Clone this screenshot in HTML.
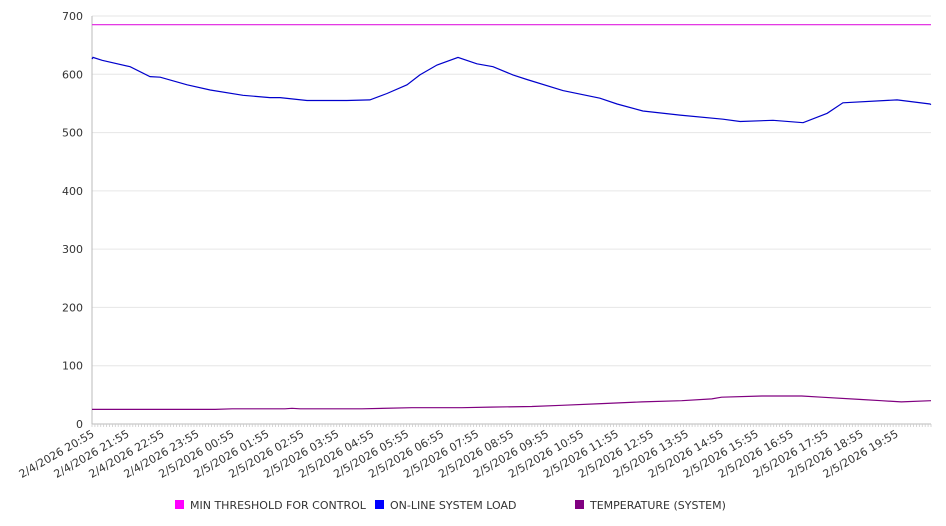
<!DOCTYPE html>
<html><head><meta charset="utf-8"><style>
html,body{margin:0;padding:0;background:#fff;}
svg{display:block;font-family:"DejaVu Sans","Liberation Sans",sans-serif;}
</style></head><body>
<svg id="chart" width="946" height="526" viewBox="0 0 946 526"></svg>
<script>
const xTickLabels=["2/4/2026 20:55","2/4/2026 21:55","2/4/2026 22:55","2/4/2026 23:55","2/5/2026 00:55","2/5/2026 01:55","2/5/2026 02:55","2/5/2026 03:55","2/5/2026 04:55","2/5/2026 05:55","2/5/2026 06:55","2/5/2026 07:55","2/5/2026 08:55","2/5/2026 09:55","2/5/2026 10:55","2/5/2026 11:55","2/5/2026 12:55","2/5/2026 13:55","2/5/2026 14:55","2/5/2026 15:55","2/5/2026 16:55","2/5/2026 17:55","2/5/2026 18:55","2/5/2026 19:55"];
const yTicks=[0,100,200,300,400,500,600,700];
const thresholdHours=[0,24];
const thresholdValues=[685,685];
const loadHours=[0,0.03,0.29,1.09,1.66,1.95,2.72,3.38,4.32,5.09,5.38,6.15,7.29,7.95,8.44,9.01,9.38,9.87,10.47,11.01,11.47,12.04,12.44,13.47,14.53,15.02,15.76,16.82,18.05,18.54,19.48,20.34,21.03,21.48,23.03,23.97,24];
const loadValues=[626,629,624,613,596,595,582,573,564,560,560,555,555,556,567,582,599,616,629,618,613,599,591,572,559,549,537,530,523,519,521,517,533,551,556,549,548];
const tempHours=[0,3.52,4.01,5.52,5.72,5.95,7.72,9.15,10.58,11.38,12.58,13.44,14.58,15.73,16.87,17.73,18.01,19.16,20.3,20.87,22.01,22.58,23.15,24];
const tempValues=[25,25,26,26,27,26,26,28,28,29,30,32,35,38,40,43,46,48,48,46,42,40,38,40];
const X0=92,X1=931,Y0=424,Y1=16,NS="http://www.w3.org/2000/svg";
const svg=document.getElementById('chart');
const xs=h=>X0+(X1-X0)*h/24;
const ys=v=>Y0-(Y0-Y1)*v/700;
function mk(t,a){const e=document.createElementNS(NS,t);for(const k in a)e.setAttribute(k,a[k]);svg.appendChild(e);return e;}
yTicks.forEach(v=>{
 const g=mk('line',{x1:X0,x2:X1,y1:ys(v),y2:ys(v),stroke:v===0?'#bbb':'#e6e6e6','stroke-width':1});
 
 
 const t=mk('text',{x:83,y:ys(v)+4,'text-anchor':'end','font-size':11,fill:'#333'});
 t.textContent=v;
 
 
});
const ax=mk('line',{x1:X0,x2:X0,y1:Y1,y2:Y0,stroke:'#bbb','stroke-width':1});


for(let i=0;i<=288;i++){
 const x=X0+(X1-X0)*i/288;
 const tk=mk('line',{x1:x,x2:x,y1:Y0,y2:Y0+3,stroke:'#ccc','stroke-width':0.8});
 
 
}
xTickLabels.forEach((s,i)=>{
 const x=xs(i)+3,y=Y0+12;
 const t=mk('text',{x:x,y:y,'text-anchor':'end','font-size':11,fill:'#333',transform:`rotate(-30 ${x} ${y})`});
 t.textContent=s;
 
 
});
function line(hs,vs,color,name){
 const d=hs.map((h,i)=>(i?'L':'M')+xs(h).toFixed(1)+','+ys(vs[i]).toFixed(1)).join('');
 const p=mk('path',{d:d,fill:'none',stroke:color,'stroke-width':1.2});
 
 
}
line(thresholdHours,thresholdValues,'#e01ee0','threshold-line');
line(tempHours,tempValues,'#800080','temperature-line');
line(loadHours,loadValues,'#0000cc','load-line');
const legend=[["MIN THRESHOLD FOR CONTROL","#ff00ff",175],["ON-LINE SYSTEM LOAD","#0000ff",375],["TEMPERATURE (SYSTEM)","#800080",575]];
legend.forEach(l=>{
 const r=mk('rect',{x:l[2],y:500,width:9,height:9,fill:l[1]});
 
 
 const t=mk('text',{x:l[2]+15,y:509,'font-size':11,fill:'#333'});
 t.textContent=l[0];
 
 
});
</script>
</body></html>
